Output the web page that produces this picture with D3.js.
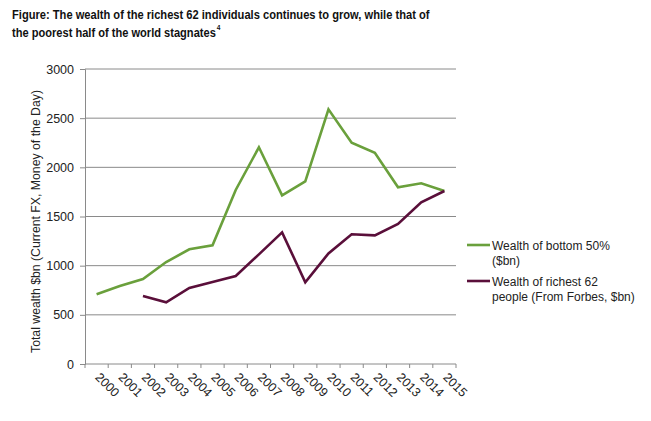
<!DOCTYPE html>
<html><head><meta charset="utf-8">
<script src="https://cdn.jsdelivr.net/npm/d3@7"></script>
<style>body{margin:0;background:#fff}svg{display:block;font-family:"Liberation Sans",Arial,sans-serif}</style>
</head><body><svg id="c" width="651" height="421"></svg>
<script>
const years = ["2000","2001","2002","2003","2004","2005","2006","2007","2008","2009","2010","2011","2012","2013","2014","2015"];
const bottom50 = [709,793,864,1037,1166,1207,1770,2204,1715,1858,2590,2251,2149,1797,1838,1759];
const richest62 = [null,null,692,627,773,834,895,1115,1339,831,1125,1319,1308,1424,1644,1759];
const yTicks = [0,500,1000,1500,2000,2500,3000];
const titleLines = ["Figure: The wealth of the richest 62 individuals continues to grow, while that of","the poorest half of the world stagnates"];
const seriesNames = [["Wealth of bottom 50%","($bn)"],["Wealth of richest 62","people (From Forbes, $bn)"]];
const colors = ["#6aa03c","#5a0f3a"];

const svg = d3.select("#c");
const L=85, R=456, T=69, B=364;
const x = d3.scaleBand().domain(years).range([L,R]);
const y = d3.scaleLinear().domain([0,3000]).range([B,T]);

// title (horizontally condensed via scale transform)
const tg1 = svg.append("g");
const tt1 = tg1.append("text").attr("font-weight","bold").attr("font-size",13.5).attr("fill","#111").text(titleLines[0]);
const s1 = 418 / tt1.node().getComputedTextLength();
tg1.attr("transform",`translate(12,19) scale(${s1},1)`);
const tg2 = svg.append("g");
const tt2 = tg2.append("text").attr("font-weight","bold").attr("font-size",13.5).attr("fill","#111");
tt2.append("tspan").text(titleLines[1]);
const w2 = tt2.node().getComputedTextLength();
tt2.append("tspan").attr("font-size",8).attr("dx",1).attr("dy",-7).text("4");
tg2.attr("transform",`translate(12,37) scale(${204 / w2},1)`);

// grid
svg.append("g").selectAll("line").data(yTicks.filter(d=>d>0)).join("line")
  .attr("x1",L).attr("x2",R).attr("y1",d=>y(d)).attr("y2",d=>y(d))
  .attr("stroke","#8a8a8a").attr("stroke-width",1);

// y axis
const ya = svg.append("g").attr("transform",`translate(${L},0)`)
  .call(d3.axisLeft(y).tickValues(yTicks).tickFormat(d3.format("d")).tickSize(5).tickPadding(6));
ya.select(".domain").attr("stroke","#8a8a8a");
ya.selectAll(".tick line").attr("stroke","#8a8a8a");
ya.selectAll("text").attr("font-size",12.5).attr("fill","#222").attr("font-family","Liberation Sans, Arial");

// x axis
const xa = svg.append("g").attr("transform",`translate(0,${B})`);
xa.append("line").attr("x1",L).attr("x2",R).attr("stroke","#8a8a8a");
xa.selectAll("line.tk").data(d3.range(years.length+1)).join("line").attr("class","tk")
  .attr("x1",i=>L+i*x.step()).attr("x2",i=>L+i*x.step()).attr("y1",0).attr("y2",4).attr("stroke","#8a8a8a");
xa.selectAll("text").data(years).join("text")
  .attr("transform",d=>`translate(${x(d)+x.bandwidth()/2-2},${14}) rotate(45)`)
  .attr("font-size",12.5).attr("fill","#222").text(d=>d);

// y label
svg.append("text").attr("transform",`translate(40,${(T+B)/2+5}) rotate(-90)`)
  .attr("text-anchor","middle").attr("font-size",12.5).attr("fill","#222")
  .attr("textLength",263).attr("lengthAdjust","spacingAndGlyphs")
  .text("Total wealth $bn (Current FX, Money of the Day)");

// lines
const line = d3.line().defined(d=>d.v!=null).x(d=>x(d.y)+x.bandwidth()/2).y(d=>y(d.v));
[bottom50,richest62].forEach((s,i)=>{
  svg.append("path").datum(years.map((yy,j)=>({y:yy,v:s[j]})))
    .attr("d",line).attr("fill","none").attr("stroke",colors[i]).attr("stroke-width",2.6)
    .attr("stroke-linejoin","miter");
});

// legend
const lg = svg.append("g");
[245,281].forEach((ly,i)=>{
  lg.append("line").attr("x1",467).attr("x2",490).attr("y1",ly).attr("y2",ly).attr("stroke",colors[i]).attr("stroke-width",2.6);
  const t = lg.append("text").attr("font-size",12).attr("fill","#222");
  t.append("tspan").attr("x",492).attr("y",ly+5).text(seriesNames[i][0]);
  t.append("tspan").attr("x",492).attr("y",ly+20).text(seriesNames[i][1]);
});
</script></body></html>
